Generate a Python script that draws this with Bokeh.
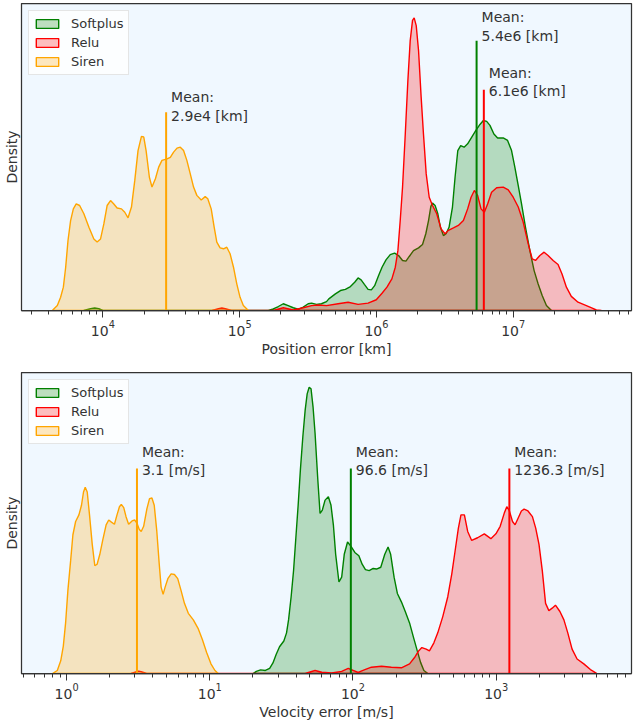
from bokeh.plotting import figure
from bokeh.layouts import column
from bokeh.models import Range1d, FixedTicker, Legend, LegendItem, ColumnDataSource
from bokeh.embed import file_html
from bokeh.resources import INLINE
from bokeh.core.properties import value

FONT = "DejaVu Sans"
INK = "#333333"
NAMES = ["Softplus", "Relu", "Siren"]
COLORS = ["#008000", "#ff0000", "#ffa500"]

# ---------------------------------------------------------------------------
# Position error: kernel density estimates over log10(error [km])
# ---------------------------------------------------------------------------
pos_softplus_log = [3.86, 3.91, 3.94, 3.97, 4.00,
                    5.210, 5.246, 5.283, 5.319, 5.355, 5.392, 5.428, 5.465, 5.501, 5.526,
                    5.562, 5.598, 5.635, 5.652, 5.700, 5.737, 5.773, 5.810, 5.841, 5.866,
                    5.888, 5.912, 5.939, 5.963, 5.987, 6.016, 6.041, 6.070, 6.101, 6.133,
                    6.162, 6.191, 6.216, 6.240, 6.271, 6.308, 6.337, 6.361, 6.381, 6.398,
                    6.410, 6.429, 6.449, 6.468, 6.490, 6.509, 6.531, 6.556, 6.575, 6.595,
                    6.616, 6.641, 6.667, 6.697, 6.726, 6.757, 6.782, 6.806, 6.830, 6.859,
                    6.886, 6.927, 6.959, 6.988, 7.012, 7.037, 7.061, 7.090, 7.122, 7.153,
                    7.182, 7.212, 7.243, 7.280]
pos_softplus_den = [0.0, 0.006, 0.008, 0.006, 0.0,
                    0.0, 0.005, 0.013, 0.022, 0.016, 0.009, 0.004, 0.011, 0.022, 0.024,
                    0.020, 0.022, 0.029, 0.038, 0.054, 0.065, 0.069, 0.078, 0.092, 0.106,
                    0.100, 0.085, 0.069, 0.067, 0.081, 0.114, 0.141, 0.165, 0.182, 0.187,
                    0.179, 0.163, 0.161, 0.176, 0.195, 0.204, 0.215, 0.250, 0.293, 0.339,
                    0.350, 0.342, 0.315, 0.271, 0.244, 0.250, 0.271, 0.337, 0.434, 0.521,
                    0.537, 0.532, 0.543, 0.565, 0.586, 0.606, 0.619, 0.616, 0.603, 0.575,
                    0.562, 0.562, 0.554, 0.521, 0.467, 0.407, 0.347, 0.271, 0.195, 0.130,
                    0.087, 0.049, 0.016, 0.0]

pos_relu_log = [4.80, 4.845, 4.87, 4.895, 4.94,
                5.246, 5.319, 5.392, 5.465, 5.526, 5.574, 5.635, 5.720, 5.793, 5.866,
                5.939, 5.999, 6.041, 6.077, 6.113, 6.138, 6.157, 6.174, 6.191, 6.211,
                6.230, 6.247, 6.264, 6.276, 6.291, 6.308, 6.327, 6.344, 6.364, 6.386,
                6.410, 6.441, 6.473, 6.502, 6.526, 6.563, 6.599, 6.636, 6.667, 6.692,
                6.716, 6.740, 6.765, 6.789, 6.813, 6.842, 6.879, 6.927, 6.964, 7.000,
                7.037, 7.073, 7.110, 7.139, 7.163, 7.195, 7.226, 7.255, 7.292, 7.328,
                7.357, 7.389, 7.425, 7.474, 7.535, 7.608, 7.645]
pos_relu_den = [0.0, 0.006, 0.008, 0.006, 0.0,
                0.0, 0.009, 0.002, 0.009, 0.016, 0.018, 0.016, 0.022, 0.027, 0.020,
                0.024, 0.035, 0.056, 0.076, 0.103, 0.141, 0.195, 0.293, 0.402, 0.575,
                0.749, 0.879, 0.945, 0.953, 0.928, 0.847, 0.695, 0.575, 0.445, 0.369,
                0.342, 0.315, 0.266, 0.250, 0.261, 0.269, 0.277, 0.293, 0.331, 0.369,
                0.391, 0.375, 0.331, 0.320, 0.347, 0.385, 0.400, 0.402, 0.393, 0.369,
                0.337, 0.288, 0.217, 0.168, 0.163, 0.179, 0.190, 0.179, 0.163, 0.150,
                0.119, 0.076, 0.046, 0.027, 0.016, 0.002, 0.0]

pos_siren_log = [3.630, 3.667, 3.691, 3.711, 3.728, 3.745, 3.764, 3.784, 3.805, 3.830,
                 3.861, 3.898, 3.934, 3.958, 3.983, 4.007, 4.031, 4.056, 4.080, 4.104,
                 4.136, 4.160, 4.184, 4.209, 4.233, 4.257, 4.282, 4.299, 4.316, 4.340,
                 4.359, 4.384, 4.408, 4.432, 4.469, 4.493, 4.517, 4.542, 4.566, 4.590,
                 4.614, 4.639, 4.663, 4.687, 4.719, 4.748, 4.767, 4.792, 4.814, 4.833,
                 4.857, 4.882, 4.906, 4.930, 4.955, 4.979, 5.003, 5.027, 5.064]
pos_siren_den = [0.0, 0.016, 0.043, 0.076, 0.141, 0.228, 0.293, 0.331, 0.347, 0.342,
                 0.315, 0.271, 0.233, 0.223, 0.233, 0.282, 0.342, 0.358, 0.347, 0.334,
                 0.331, 0.320, 0.302, 0.337, 0.423, 0.521, 0.567, 0.565, 0.521, 0.434,
                 0.402, 0.429, 0.467, 0.489, 0.494, 0.499, 0.516, 0.529, 0.532, 0.521,
                 0.489, 0.445, 0.402, 0.375, 0.360, 0.371, 0.364, 0.331, 0.271, 0.223,
                 0.204, 0.201, 0.206, 0.185, 0.141, 0.087, 0.043, 0.016, 0.0]

pos_means = [5.4e6, 6.1e6, 2.9e4]          # Softplus, Relu, Siren [km]
pos_mean_heights = [0.879, 0.719, 0.646]

# ---------------------------------------------------------------------------
# Velocity error: kernel density estimates over log10(error [m/s])
# ---------------------------------------------------------------------------
vel_softplus_log = [1.302, 1.325, 1.355, 1.388, 1.418, 1.441, 1.464, 1.487, 1.517, 1.536,
                    1.550, 1.568, 1.585, 1.601, 1.617, 1.633, 1.650, 1.666, 1.680, 1.694,
                    1.707, 1.721, 1.735, 1.754, 1.770, 1.786, 1.805, 1.828, 1.846, 1.863,
                    1.879, 1.902, 1.921, 1.939, 1.962, 1.985, 2.013, 2.041, 2.064, 2.087,
                    2.113, 2.141, 2.164, 2.194, 2.222, 2.245, 2.263, 2.287, 2.310, 2.338,
                    2.365, 2.395, 2.423, 2.449, 2.472, 2.495, 2.523]
vel_softplus_den = [0.0, 0.007, 0.012, 0.010, 0.017, 0.035, 0.064, 0.089, 0.108, 0.135,
                    0.178, 0.255, 0.342, 0.451, 0.559, 0.679, 0.788, 0.875, 0.929, 0.951,
                    0.946, 0.886, 0.799, 0.646, 0.532, 0.543, 0.576, 0.587, 0.560, 0.494,
                    0.396, 0.304, 0.320, 0.396, 0.437, 0.423, 0.402, 0.391, 0.363, 0.345,
                    0.342, 0.349, 0.347, 0.353, 0.396, 0.420, 0.396, 0.320, 0.266, 0.238,
                    0.206, 0.168, 0.119, 0.075, 0.037, 0.010, 0.0]

vel_relu_log = [0.45, 0.49, 0.503, 0.52, 0.56,
                1.666, 1.735, 1.782, 1.851, 1.921, 1.967, 2.002, 2.036, 2.083, 2.129,
                2.199, 2.268, 2.338, 2.395, 2.430, 2.458, 2.481, 2.511, 2.534, 2.565,
                2.592, 2.627, 2.662, 2.690, 2.713, 2.736, 2.754, 2.778, 2.801, 2.829,
                2.870, 2.917, 2.963, 2.998, 3.028, 3.056, 3.074, 3.090, 3.114, 3.132,
                3.153, 3.176, 3.195, 3.222, 3.253, 3.276, 3.299, 3.322, 3.345, 3.368,
                3.391, 3.414, 3.445, 3.473, 3.500, 3.530, 3.565, 3.612, 3.658, 3.704]
vel_relu_den = [0.0, 0.006, 0.008, 0.006, 0.0,
                0.0, 0.010, 0.004, 0.002, 0.007, 0.017, 0.010, 0.004, 0.013, 0.021,
                0.024, 0.021, 0.019, 0.032, 0.053, 0.075, 0.086, 0.081, 0.075, 0.102,
                0.135, 0.189, 0.255, 0.331, 0.407, 0.483, 0.527, 0.527, 0.472, 0.442,
                0.451, 0.464, 0.448, 0.464, 0.489, 0.532, 0.554, 0.543, 0.505, 0.494,
                0.516, 0.540, 0.546, 0.540, 0.521, 0.483, 0.429, 0.342, 0.233, 0.209,
                0.217, 0.227, 0.206, 0.178, 0.135, 0.081, 0.048, 0.032, 0.013, 0.0]

vel_siren_log = [-0.099, -0.065, -0.041, -0.023, -0.007, 0.009, 0.028, 0.044, 0.063, 0.086,
                 0.104, 0.118, 0.130, 0.144, 0.160, 0.179, 0.197, 0.213, 0.232, 0.253,
                 0.276, 0.294, 0.313, 0.334, 0.352, 0.369, 0.382, 0.399, 0.415, 0.433,
                 0.457, 0.475, 0.491, 0.508, 0.521, 0.538, 0.561, 0.579, 0.596, 0.612,
                 0.630, 0.647, 0.660, 0.674, 0.688, 0.707, 0.730, 0.753, 0.776, 0.799,
                 0.823, 0.850, 0.885, 0.920, 0.948, 0.978, 1.008, 1.036, 1.059]
vel_siren_den = [0.0, 0.010, 0.042, 0.091, 0.168, 0.276, 0.374, 0.461, 0.505, 0.527,
                 0.559, 0.603, 0.619, 0.603, 0.527, 0.429, 0.358, 0.363, 0.396, 0.445,
                 0.494, 0.510, 0.503, 0.496, 0.527, 0.554, 0.562, 0.551, 0.521, 0.496,
                 0.507, 0.510, 0.500, 0.478, 0.472, 0.489, 0.548, 0.581, 0.583, 0.559,
                 0.472, 0.363, 0.287, 0.263, 0.287, 0.315, 0.331, 0.329, 0.315, 0.276,
                 0.233, 0.200, 0.178, 0.148, 0.113, 0.070, 0.032, 0.010, 0.0]

vel_means = [96.6, 1236.3, 3.1]            # Softplus, Relu, Siren [m/s]
vel_mean_heights = [0.681, 0.681, 0.681]


def sci(v):
    mant, exp = f"{v:.1e}".split("e")
    return f"{mant}e{int(exp)}"


def fixed(v):
    return f"{v:.1f}"


def build(curves, means, heights, label_ys, unit, fmt, x_lo, x_hi, decades,
          xlabel, height, border_top, border_bottom):
    p = figure(width=634, height=height, x_axis_type="log",
               x_range=Range1d(10 ** x_lo, 10 ** x_hi), y_range=Range1d(0, 1),
               output_backend="svg", toolbar_location=None,
               min_border_left=19, min_border_right=3,
               min_border_top=border_top, min_border_bottom=border_bottom)
    p.background_fill_color = "#f0f8ff"
    p.border_fill_color = "white"
    p.outline_line_color = INK
    p.outline_line_width = 1.25
    p.xgrid.visible = False
    p.ygrid.visible = False

    items = []
    for name, color, (logs, dens) in zip(NAMES, COLORS, curves):
        xs = [10 ** v for v in logs]
        r = p.patch(xs, dens, fill_color=color, fill_alpha=0.25,
                    line_color=color, line_width=1.4)
        items.append(LegendItem(label=name, renderers=[r]))

    for color, m, h in zip(COLORS, means, heights):
        p.segment(x0=[m], y0=[0], x1=[m], y1=[h], line_color=color, line_width=2)

    src = ColumnDataSource(dict(
        x=means, y=label_ys,
        text=[f"Mean:\n{fmt(m)} [{unit}]" for m in means]))
    p.text(x="x", y="y", text="text", source=src, x_offset=5,
           text_align="left", text_baseline="middle",
           text_font=value(FONT), text_font_size=value("14px"),
           text_color=INK, text_line_height=1.15)

    legend = Legend(items=items, location="top_left", margin=7, padding=4,
                    spacing=2, label_height=17, glyph_height=11, glyph_width=28,
                    label_standoff=10, border_line_color="#cccccc",
                    border_line_width=1, background_fill_color="white",
                    background_fill_alpha=0.8, label_text_font=FONT,
                    label_text_font_size="13px", label_text_color=INK)
    p.add_layout(legend)

    xa = p.xaxis[0]
    xa.ticker = FixedTicker(
        ticks=[10.0 ** k for k in decades],
        minor_ticks=[m * 10.0 ** k for k in range(decades[0] - 1, decades[-1] + 1)
                     for m in range(2, 10)])
    xa.axis_label = xlabel
    xa.axis_label_text_font = FONT
    xa.axis_label_text_font_size = "14px"
    xa.axis_label_text_font_style = "normal"
    xa.axis_label_text_color = INK
    xa.axis_label_standoff = 2
    xa.major_label_text_font = FONT
    xa.major_label_text_font_size = "14px"
    xa.major_label_text_color = INK
    xa.major_label_standoff = 2
    xa.axis_line_color = INK
    xa.axis_line_width = 1.25
    xa.major_tick_line_color = INK
    xa.minor_tick_line_color = INK
    xa.major_tick_out = 7
    xa.major_tick_in = 0
    xa.minor_tick_out = 4
    xa.minor_tick_in = 0

    ya = p.yaxis[0]
    ya.ticker = FixedTicker(ticks=[])
    ya.axis_label = "Density"
    ya.axis_label_text_font = FONT
    ya.axis_label_text_font_size = "14px"
    ya.axis_label_text_font_style = "normal"
    ya.axis_label_text_color = INK
    ya.axis_label_standoff = 2
    ya.major_label_standoff = 0
    ya.major_label_text_font_size = "0px"
    ya.major_tick_out = 0
    ya.minor_tick_out = 0
    ya.axis_line_color = INK
    return p


top = build(
    curves=[(pos_softplus_log, pos_softplus_den),
            (pos_relu_log, pos_relu_den),
            (pos_siren_log, pos_siren_den)],
    means=pos_means, heights=pos_mean_heights,
    label_ys=[0.925, 0.744, 0.664], unit="km", fmt=sci,
    x_lo=3.405, x_hi=7.865, decades=[4, 5, 6, 7],
    xlabel="Position error [km]", height=362, border_top=3, border_bottom=52)

bottom = build(
    curves=[(vel_softplus_log, vel_softplus_den),
            (vel_relu_log, vel_relu_den),
            (vel_siren_log, vel_siren_den)],
    means=vel_means, heights=vel_mean_heights,
    label_ys=[0.705, 0.705, 0.705], unit="m/s", fmt=fixed,
    x_lo=-0.315, x_hi=3.945, decades=[0, 1, 2, 3],
    xlabel="Velocity error [m/s]", height=360, border_top=10, border_bottom=44)

layout = column(top, bottom)
open("out.html", "w").write(file_html(layout, INLINE, title="Error distributions"))
